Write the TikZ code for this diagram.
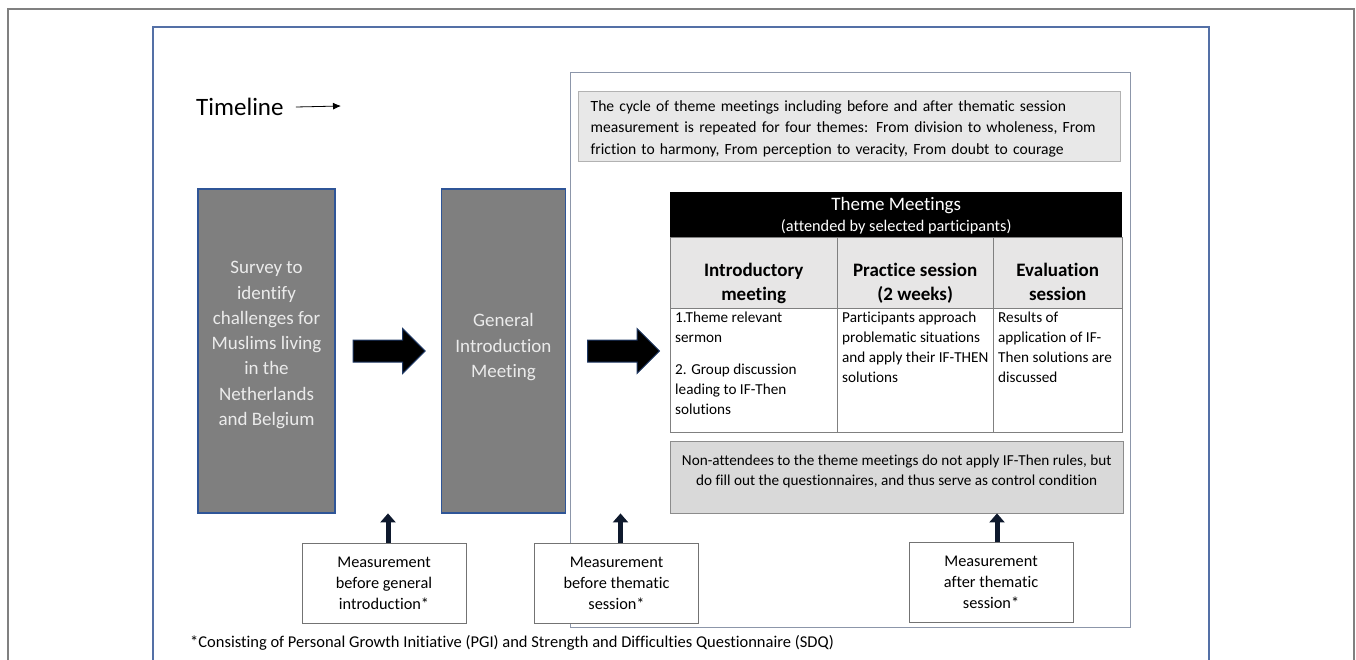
\documentclass[tikz,border=0pt]{standalone}
\usepackage{fontspec}
\setmainfont{Carlito}[Ligatures=NoCommon]
\usetikzlibrary{arrows.meta, positioning, shapes.arrows}
\definecolor{boxgray}{HTML}{7F7F7F}
\definecolor{boxblue}{HTML}{2F5597}
\definecolor{framegray}{HTML}{808080}
\definecolor{frameblue}{HTML}{5470A6}
\definecolor{thingray}{HTML}{8C96AA}
\definecolor{infofill}{HTML}{E8E8E8}
\definecolor{notefill}{HTML}{D9D9D9}
\definecolor{headfill}{HTML}{E7E6E6}
\definecolor{arrowblue}{HTML}{1F3864}
\tikzset{
  stagebox/.style = {draw=boxblue, line width=1.2pt, fill=boxgray, text=white!92!black,
                     align=center, font=\fontsize{19pt}{25.3pt}\selectfont, inner sep=0pt},
  infobox/.style  = {draw=black!30, line width=1.4pt, fill=infofill, anchor=north west,
                     inner xsep=12pt, inner ysep=0pt, text width=518pt, minimum height=70pt,
                     text height=15pt, align=left, font=\fontsize{15.6pt}{21.5pt}\selectfont},
  notebox/.style  = {draw=black!45, fill=notefill, anchor=north west, inner sep=0pt,
                     align=center, font=\fontsize{15.2pt}{20pt}\selectfont},
  measbox/.style  = {draw=black!55, fill=white, minimum width=164pt, minimum height=80pt,
                     align=center, font=\fontsize{16.3pt}{21pt}\selectfont, inner sep=0pt},
  headcell/.style = {fill=black, text=white, anchor=north west, inner sep=0pt, align=center,
                     minimum width=452pt, minimum height=45pt, text depth=0pt,
                     font=\fontsize{16.3pt}{21pt}\selectfont},
  hcell/.style    = {draw=black!50, fill=headfill, anchor=north west, inner sep=0pt,
                     minimum height=71pt},
  bcell/.style    = {draw=black!50, fill=white, anchor=north west, inner sep=0pt,
                     minimum height=124pt},
  htext/.style    = {anchor=south, inner sep=3pt, align=center, text depth=4.5pt,
                     font=\bfseries\fontsize{19pt}{24pt}\selectfont},
  btext/.style    = {anchor=north west, inner xsep=5pt, inner ysep=4pt, align=left,
                     font=\fontsize{15.2pt}{20pt}\selectfont},
  bigarrow/.style = {single arrow, draw=arrowblue, fill=black, line width=1pt,
                     minimum height=72pt, minimum width=44pt, single arrow head extend=11.5pt,
                     inner xsep=0pt, inner ysep=10.5pt},
  uparrow/.style  = {line width=5pt, arrowblue!45!black, -{Triangle[length=9pt, width=15pt]}},
  tlarrow/.style  = {-{Latex[length=8pt, width=7pt]}, line width=0.8pt},
}

\begin{document}
\begin{tikzpicture}[x=1pt, y=-1pt]
    \useasboundingbox (0,0) rectangle (1356,659);
    \draw[framegray, line width=1.2pt] (8,9) rectangle (1354,700);
    \draw[frameblue, line width=2pt] (153,27) rectangle (1209,700);
    \draw[thingray, line width=1pt] (570,72) rectangle (1130,627);

    \node[anchor=west, inner sep=0pt, font=\fontsize{25pt}{30pt}\selectfont] (timeline) at (196,107) {Timeline};
    \coordinate (tlend) at (341,106);
    \draw[tlarrow] ([xshift=12pt]timeline.east) -- (tlend);

    \node[stagebox, minimum width=137pt, minimum height=324pt, text depth=15pt] (survey) at (266.5,351)
      {Survey to\\identify\\challenges for\\Muslims living\\in the\\Netherlands\\and Belgium};
    \node[bigarrow, right=17pt of survey] (arr1) {};
    \node[stagebox, minimum width=124pt, minimum height=324pt, text depth=11pt, right=15pt of arr1] (general)
      {General\\Introduction\\Meeting};
    \node[bigarrow, right=21pt of general] (arr2) {};

    \node[infobox] (cycle) at (578,91)
      {The cycle of theme meetings including before and after thematic session\\
       measurement is repeated for four themes: From division to wholeness, From\\
       friction to harmony, From perception to veracity, From doubt to courage};

    % theme meetings table
    \node[headcell] (thead) at (670,192)
      {{\fontsize{19pt}{21pt}\selectfont Theme Meetings}\\(attended by selected participants)};
    \node[hcell, minimum width=167pt] (hintro) at (670,237) {};
    \node[hcell, minimum width=156pt] (hpract) at (837,237) {};
    \node[hcell, minimum width=129pt] (heval)  at (993,237) {};
    \node[htext] at (hintro.south) {Introductory\\meeting};
    \node[htext] at (hpract.south) {Practice session\\(2 weeks)};
    \node[htext] at (heval.south)  {Evaluation\\session};
    \node[bcell, minimum width=167pt] (bintro) at (670,308) {};
    \node[bcell, minimum width=156pt] (bpract) at (837,308) {};
    \node[bcell, minimum width=129pt] (beval)  at (993,308) {};
    \node[btext] at (bintro.north west)
      {1.Theme relevant\\sermon\\[12pt]2. Group discussion\\leading to IF-Then\\solutions};
    \node[btext] at (bpract.north west)
      {Participants approach\\problematic situations\\and apply their IF-THEN\\solutions};
    \node[btext] at (beval.north west)
      {Results of\\application of IF-\\Then solutions are\\discussed};

    \node[notebox, minimum width=453pt, minimum height=72pt, text depth=13pt] (note) at (670,441)
      {Non-attendees to the theme meetings do not apply IF-Then rules, but\\
       do fill out the questionnaires, and thus serve as control condition};

    % measurements
    \node[measbox] (mgen)  at (384,583)   {Measurement\\before general\\introduction*};
    \node[measbox] (mpre)  at (616.5,583.5) {Measurement\\before thematic\\session*};
    \node[measbox] (mpost) at (991,582.5) {Measurement\\after thematic\\session*};
    \coordinate (agen)  at ([xshift=4pt]mgen.north);
    \coordinate (apre)  at ([xshift=4pt]mpre.north);
    \coordinate (apost) at ([xshift=6pt]mpost.north);
    \draw[uparrow] (agen)  -- (agen |- note.south);
    \draw[uparrow] (apre)  -- (apre |- note.south);
    \draw[uparrow] (apost) -- (apost |- note.south);

    \node[anchor=west, inner sep=0pt, font=\fontsize{16.5pt}{20pt}\selectfont] (footnote) at (190,643)
      {*Consisting of Personal Growth Initiative (PGI) and Strength and Difficulties Questionnaire (SDQ)};
\end{tikzpicture}
\end{document}
